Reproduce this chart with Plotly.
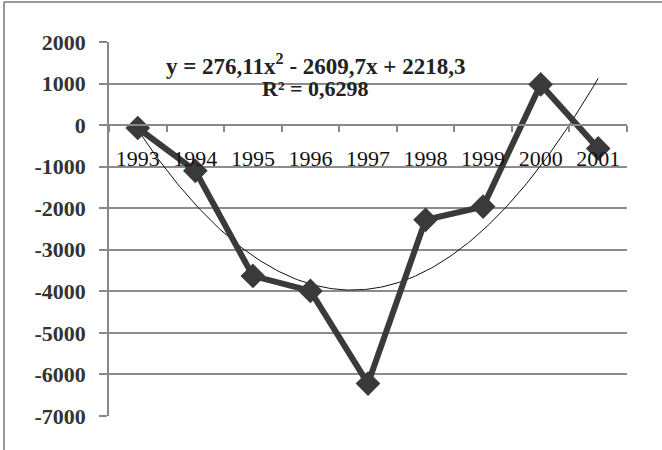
import numpy as np
import plotly.graph_objects as go

years = ["1993", "1994", "1995", "1996", "1997", "1998", "1999", "2000", "2001"]
values = [-70, -1100, -3630, -3990, -6220, -2280, -1960, 980, -560]
y_ticks = [2000, 1000, 0, -1000, -2000, -3000, -4000, -5000, -6000, -7000]
equation_text = "y = 276,11x<sup>2</sup> - 2609,7x + 2218,3"
r2_text = "R² = 0,6298"

W, H = 662, 450
L, R, T, B = 109, 35, 42, 34
pw, ph = W - L - R, H - T - B
y_min, y_max = -7000, 2000

xi = np.arange(len(years))
coef = np.polyfit(xi + 1, values, 2)
xt = np.linspace(0, len(years) - 1, 200)
yt = np.polyval(coef, xt + 1)

fig = go.Figure()
fig.add_trace(go.Scatter(x=xt, y=yt, mode="lines",
                         line=dict(color="#111111", width=1), hoverinfo="skip"))
fig.add_trace(go.Scatter(x=xi, y=values, mode="lines+markers",
                         line=dict(color="#3a3a3a", width=6),
                         marker=dict(symbol="diamond", size=19, color="#3a3a3a")))

zero_pos = (0 - y_min) / (y_max - y_min)

fig.update_layout(
    width=W, height=H,
    margin=dict(l=L, r=R, t=T, b=B),
    paper_bgcolor="white", plot_bgcolor="white",
    showlegend=False,
    xaxis=dict(
        range=[-0.5, len(years) - 0.5],
        tickvals=list(xi), ticktext=years,
        ticks="", showgrid=False, zeroline=False,
        showline=True, linecolor="#888888", linewidth=1.5,
        anchor="free", position=zero_pos,
        tickfont=dict(family="Liberation Serif", size=22, color="#111111"),
        ticklabelstandoff=14,
        minor=dict(tickvals=[i - 0.5 for i in range(len(years) + 1)],
                   ticks="outside", ticklen=6, tickcolor="#888888",
                   tickwidth=1.5, showgrid=False),
    ),
    yaxis=dict(
        range=[y_min, y_max], tickvals=y_ticks,
        ticktext=[str(v) for v in y_ticks],
        showgrid=True, gridcolor="#8c8c8c", gridwidth=1.5,
        zeroline=False, showline=True, linecolor="#888888", linewidth=1.5,
        ticks="outside", ticklen=8, tickcolor="#888888", tickwidth=1.5,
        ticklabelstandoff=9,
        tickfont=dict(family="Liberation Serif", size=22, color="#333333", weight="bold"),
    ),
    font=dict(family="Liberation Serif"),
)

fig.add_annotation(xref="paper", yref="paper",
                   x=(315 - L) / pw, y=1 - (64 - T) / ph,
                   text=equation_text, showarrow=False,
                   font=dict(family="Liberation Serif", size=23, color="#222222", weight="bold"),
                   xanchor="center", yanchor="middle")
fig.add_annotation(xref="paper", yref="paper",
                   x=(315 - L) / pw, y=1 - (88 - T) / ph,
                   text=r2_text, showarrow=False,
                   font=dict(family="Liberation Serif", size=22, color="#222222", weight="bold"),
                   xanchor="center", yanchor="middle")

# outer frame (left and top edges)
fig.add_shape(type="line", xref="paper", yref="paper",
              x0=(4 - L) / pw, x1=(4 - L) / pw, y0=-B / ph, y1=1 + (T - 2) / ph,
              line=dict(color="#777777", width=1.5))
fig.add_shape(type="line", xref="paper", yref="paper",
              x0=(4 - L) / pw, x1=(W - L) / pw, y0=1 + (T - 2) / ph, y1=1 + (T - 2) / ph,
              line=dict(color="#777777", width=1.5))

fig.write_html("out.html", config={"displayModeBar": False},
               post_script="document.body.style.margin='0';")
